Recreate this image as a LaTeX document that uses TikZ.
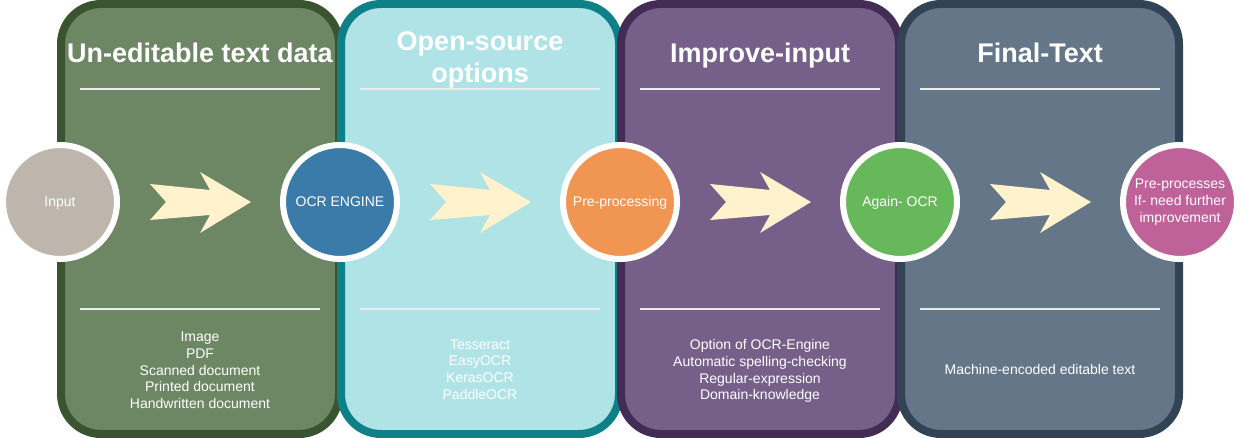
\documentclass[tikz,border=0pt]{standalone}
\usepackage{fontspec}
\setmainfont{Liberation Sans}
\definecolor{pAfill}{HTML}{6D8764}\definecolor{pAline}{HTML}{3A5431}
\definecolor{pBfill}{HTML}{B0E3E6}\definecolor{pBline}{HTML}{0E8088}
\definecolor{pCfill}{HTML}{76608A}\definecolor{pCline}{HTML}{432D57}
\definecolor{pDfill}{HTML}{647687}\definecolor{pDline}{HTML}{314354}
\definecolor{cA}{HTML}{BEB5AC}
\definecolor{cB}{HTML}{3A7BA9}
\definecolor{cC}{HTML}{F09552}
\definecolor{cD}{HTML}{67B85B}
\definecolor{cE}{HTML}{C0629A}
\definecolor{arrowc}{HTML}{FFF2CC}
\definecolor{rulec}{HTML}{EBEBEB}
\begin{document}
\begin{tikzpicture}[x=1pt,y=-1pt,
  pnl/.style={line width=8pt, rounded corners=40pt},
  hrule/.style={draw=rulec, line width=2pt},
  ttl/.style={text=white, font=\fontsize{27}{32}\selectfont\bfseries, align=center, inner sep=0pt},
  bodytxt/.style={text=white, font=\fontsize{14}{16.8}\selectfont, align=center, inner sep=0pt},
  stagec/.style={circle, draw=white, line width=6pt, minimum size=114pt, inner sep=0pt, text=white, font=\fontsize{14}{16.8}\selectfont, align=center},
  oneline/.style={text height=10pt, text depth=0pt},
  flowarrow/.style={fill=arrowc, draw=none}]
\useasboundingbox (0,0) rectangle (1241,438);
% panels
\draw[pnl, draw=pAline, fill=pAfill] (61,4) rectangle (339,434);
\draw[pnl, draw=pBline, fill=pBfill] (341,4) rectangle (619,434);
\draw[pnl, draw=pCline, fill=pCfill] (621,4) rectangle (899,434);
\draw[pnl, draw=pDline, fill=pDfill] (901,4) rectangle (1179,434);
% rules and arrows
\foreach \k in {0,1,2,3}{
  \begin{scope}[xshift=\k*280pt]
    \draw[hrule] (80,89) -- (320,89);
    \draw[hrule] (80,309) -- (320,309);
    \fill[flowarrow] (150,184) -- (166,202) -- (150,220) -- (210,215) -- (200,233)
      -- (251,202) -- (200,172) -- (210,190) -- cycle;
  \end{scope}
}
% titles
\node[ttl, anchor=base] (t1) at (200,63) {Un-editable text data};
\node[ttl, anchor=center] (t2) at (480,60) {Open-source\\options};
\node[ttl, anchor=base] (t3) at (760,63) {Improve-input};
\node[ttl, anchor=base] (t4) at (1040,63) {Final-Text};
% body texts
\node[bodytxt] (b1) at (200,370.4) {Image\\PDF\\Scanned document\\Printed document\\Handwritten document};
\node[bodytxt] (b2) at (480,369.6) {Tesseract\\EasyOCR\\KerasOCR\\PaddleOCR};
\node[bodytxt] (b3) at (760,371) {Option of OCR-Engine\\Automatic spelling-checking\\Regular-expression\\Domain-knowledge};
\node[bodytxt] (b4) at (1040,369.5) {Machine-encoded editable text};
% circles
\node[stagec, oneline, fill=cA] (c1) at (60,202) {Input};
\node[stagec, oneline, fill=cB] (c2) at (340,202) {OCR ENGINE};
\node[stagec, oneline, fill=cC] (c3) at (620,202) {Pre-processing};
\node[stagec, oneline, fill=cD] (c4) at (900,202) {Again- OCR};
\node[stagec, fill=cE] (c5) at (1180,202) {Pre-processes\\If- need further\\improvement};
\end{tikzpicture}
\end{document}
